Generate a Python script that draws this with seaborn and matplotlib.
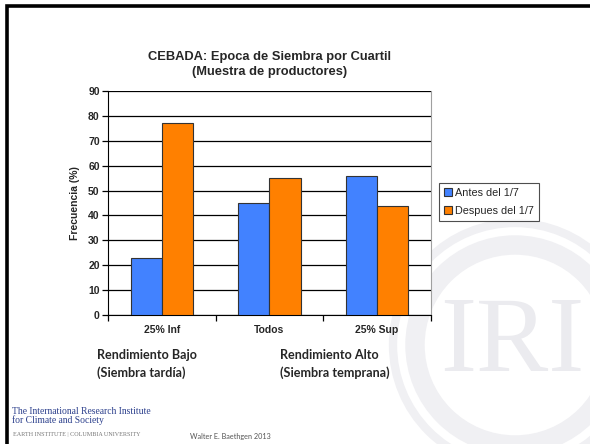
import matplotlib
matplotlib.use("Agg")
import matplotlib.pyplot as plt
import seaborn as sns
import pandas as pd
from matplotlib.patches import Circle

categories = ["25% Inf", "Todos", "25% Sup"]
antes = [23, 45, 56]
despues = [77, 55, 44]
series_names = ["Antes del 1/7", "Despues del 1/7"]

df = pd.DataFrame({"cuartil": categories * 2,
                   "frecuencia": antes + despues,
                   "epoca": [series_names[0]] * 3 + [series_names[1]] * 3})

sns.set_style("white")
plt.rcParams['font.family'] = ['Liberation Sans', 'DejaVu Sans']

fig = plt.figure(figsize=(5.9, 4.44), dpi=100)

# background layer: slide frame + IRI watermark, in pixel coords
bg = fig.add_axes([0, 0, 1, 1], zorder=0)
bg.set_xlim(0, 590)
bg.set_ylim(444, 0)
bg.axis('off')
bg.plot([7, 7, 590], [444, 6, 6], color='black', linewidth=2.6, solid_joinstyle='miter')
wm = '#f0f0f3'
bg.add_patch(Circle((515, 345), 100, fill=False, edgecolor=wm, linewidth=14))
bg.add_patch(Circle((515, 345), 122, fill=False, edgecolor=wm, linewidth=6))
bg.text(512, 345, "IRI", fontsize=78, family='Liberation Serif', color='#ebebef',
        ha='center', va='center')

ax = fig.add_axes([0.183, 0.2905, 0.547, 0.5045], zorder=2)
ax.set_facecolor('white')
sns.barplot(data=df, x="cuartil", y="frecuencia", hue="epoca",
            palette=['#4282ff', '#ff8000'], width=0.58, saturation=1,
            edgecolor='#333333', linewidth=0.8, ax=ax, zorder=3)

ax.set_ylim(0, 90)
ax.set_yticks(range(0, 91, 10))
ax.set_xlim(-0.5, 2.5)
ax.yaxis.grid(True, color='black', linewidth=0.9, zorder=0)
ax.set_axisbelow(True)
ax.spines['top'].set_visible(False)
ax.spines['right'].set_color('#a0a0a0')
ax.spines['left'].set_color('black')
ax.spines['bottom'].set_color('black')
ax.tick_params(axis='y', length=4, width=0.9, color='black', left=True,
               labelsize=7.5, pad=2)
for lbl in ax.get_yticklabels():
    lbl.set_fontweight('bold')
ax.set_xticks([-0.5, 0.5, 1.5, 2.5], minor=True)
ax.tick_params(axis='x', which='minor', length=4, width=0.9, color='black', bottom=True)
ax.tick_params(axis='x', which='major', length=0, labelsize=7.5, pad=7)
for lbl in ax.get_xticklabels():
    lbl.set_fontweight('bold')
ax.set_xlabel("")
ax.set_ylabel("Frecuencia (%)", fontsize=7.5, fontweight='bold', labelpad=6)

leg = ax.legend(loc='upper left', bbox_to_anchor=(1.008, 0.615), frameon=True,
                fontsize=7.8, fancybox=False, handlelength=0.75, handleheight=0.75,
                handletextpad=0.3, borderpad=0.45, labelspacing=0.75)
leg.get_frame().set_edgecolor('#222222')
leg.get_frame().set_linewidth(0.8)

fig.text(270 / 590, 1 - 57 / 444, "CEBADA: Epoca de Siembra por Cuartil",
         ha='center', va='center', fontsize=9.3, fontweight='bold')
fig.text(270 / 590, 1 - 72 / 444, "(Muestra de productores)",
         ha='center', va='center', fontsize=9.3, fontweight='bold')

fig.text(97 / 590, 1 - 364 / 444, "Rendimiento Bajo\n(Siembra tardía)",
         ha='left', va='center', fontsize=9.1, fontweight='bold',
         family=['Lato', 'DejaVu Sans'], linespacing=1.45)
fig.text(280 / 590, 1 - 364 / 444, "Rendimiento Alto\n(Siembra temprana)",
         ha='left', va='center', fontsize=9.1, fontweight='bold',
         family=['Lato', 'DejaVu Sans'], linespacing=1.45)

fig.text(12 / 590, 1 - 416 / 444, "The International Research Institute\nfor Climate and Society",
         ha='left', va='center', fontsize=6.9, color='#2b3f8c',
         family='Liberation Serif', linespacing=1.0)
fig.text(13 / 590, 1 - 434 / 444, "EARTH INSTITUTE | COLUMBIA UNIVERSITY",
         ha='left', va='center', fontsize=4.4, color='#777777', family='Liberation Serif')
fig.text(190 / 590, 1 - 436 / 444, "Walter E. Baethgen 2013",
         ha='left', va='center', fontsize=5.2, color='#555555', family=['Lato', 'DejaVu Sans'])

fig.savefig("out.png", dpi=100)
plt.close()
